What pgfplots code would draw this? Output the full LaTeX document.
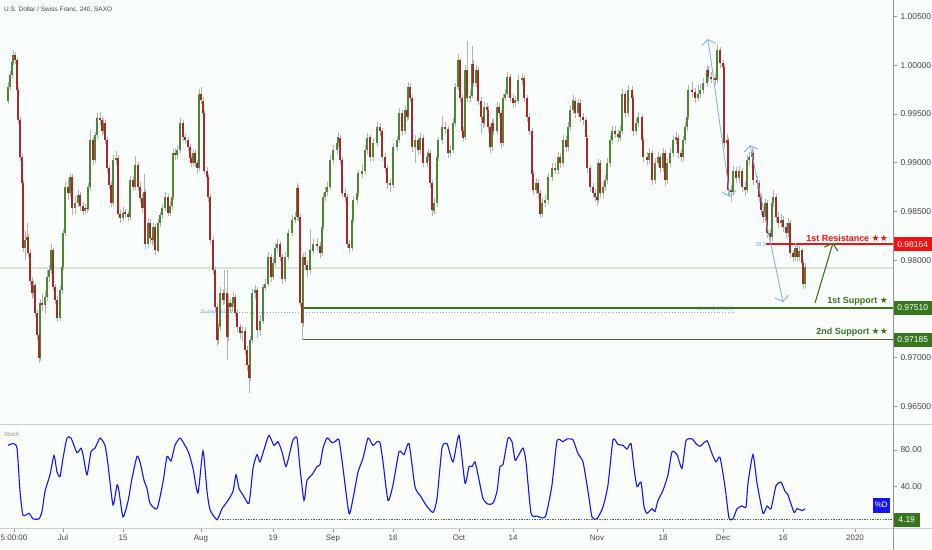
\documentclass[border=0pt]{standalone}
\usepackage{pgfplots}
\pgfplotsset{compat=1.18}
\usepackage{pgfplotstable}
\usepackage{fontspec}
\setmainfont{Liberation Sans}
\newfontfamily\starfont{DejaVu Sans}
\usetikzlibrary{arrows.meta}

\definecolor{bg}{RGB}{249,253,251}
\definecolor{upc}{RGB}{78,134,52}
\definecolor{dnc}{RGB}{168,40,40}
\definecolor{wick}{RGB}{178,180,178}
\definecolor{axgray}{RGB}{150,150,150}
\definecolor{sepgray}{RGB}{205,205,205}
\definecolor{txt}{RGB}{70,70,70}
\definecolor{sgreen}{RGB}{56,118,29}
\definecolor{rred}{RGB}{240,18,18}
\definecolor{fib}{RGB}{120,175,225}
\definecolor{stochc}{RGB}{20,20,245}
\definecolor{lastline}{RGB}{218,226,210}

\begin{document}

% 4h candles, x = bar position (Jul 1 00:00 at 62.5), o h l c prices
\pgfplotstableread{
x o c h l
8 0.9964 0.9978 0.9983 0.9960
10 0.9978 0.9990 0.9994 0.9975
12 0.9990 1.0003 1.0008 0.9987
13 1.0003 1.0011 1.0016 1.0000
15 1.0011 1.0005 1.0014 1.0001
17 1.0005 0.9975 1.0008 0.9971
18 0.9975 0.9944 0.9978 0.9940
20 0.9944 0.9906 0.9947 0.9902
22 0.9906 0.9879 0.9909 0.9875
23 0.9879 0.9813 0.9882 0.9809
25 0.9813 0.9821 0.9830 0.9800
27 0.9821 0.9824 0.9838 0.9817
28 0.9824 0.9807 0.9827 0.9803
30 0.9807 0.9779 0.9810 0.9775
32 0.9779 0.9766 0.9783 0.9760
33 0.9766 0.9774 0.9779 0.9762
35 0.9774 0.9746 0.9777 0.9742
37 0.9746 0.9723 0.9749 0.9718
39 0.9723 0.9700 0.9726 0.9694
40 0.9700 0.9756 0.9760 0.9697
42 0.9756 0.9754 0.9765 0.9748
45 0.9754 0.9762 0.9768 0.9745
47 0.9762 0.9783 0.9790 0.9758
49 0.9783 0.9790 0.9795 0.9778
51 0.9790 0.9810 0.9817 0.9786
53 0.9810 0.9772 0.9813 0.9768
55 0.9772 0.9759 0.9776 0.9755
57 0.9759 0.9741 0.9763 0.9737
60 0.9741 0.9769 0.9774 0.9738
62 0.9769 0.9793 0.9797 0.9765
63 0.9793 0.9828 0.9832 0.9790
65 0.9828 0.9875 0.9880 0.9825
68 0.9875 0.9869 0.9884 0.9862
70 0.9869 0.9885 0.9890 0.9865
72 0.9885 0.9854 0.9888 0.9846
75 0.9854 0.9859 0.9866 0.9848
78 0.9859 0.9867 0.9872 0.9855
80 0.9867 0.9856 0.9870 0.9851
83 0.9856 0.9851 0.9860 0.9846
85 0.9851 0.9854 0.9858 0.9847
87 0.9854 0.9853 0.9858 0.9849
88 0.9853 0.9875 0.9879 0.9850
90 0.9875 0.9923 0.9934 0.9872
93 0.9923 0.9903 0.9927 0.9898
95 0.9903 0.9928 0.9932 0.9900
97 0.9928 0.9946 0.9951 0.9924
100 0.9946 0.9944 0.9952 0.9939
102 0.9944 0.9933 0.9947 0.9929
103 0.9933 0.9941 0.9945 0.9930
105 0.9941 0.9923 0.9944 0.9919
107 0.9923 0.9895 0.9926 0.9890
109 0.9895 0.9877 0.9898 0.9873
111 0.9877 0.9859 0.9881 0.9855
113 0.9859 0.9903 0.9908 0.9856
116 0.9903 0.9905 0.9912 0.9898
118 0.9905 0.9848 0.9908 0.9844
120 0.9848 0.9843 0.9852 0.9838
123 0.9843 0.9849 0.9855 0.9840
125 0.9849 0.9848 0.9853 0.9843
128 0.9848 0.9844 0.9851 0.9840
130 0.9844 0.9882 0.9887 0.9841
133 0.9882 0.9875 0.9886 0.9871
135 0.9875 0.9898 0.9907 0.9872
138 0.9898 0.9875 0.9901 0.9871
140 0.9875 0.9864 0.9880 0.9860
142 0.9864 0.9854 0.9868 0.9849
144 0.9854 0.9870 0.9888 0.9850
145 0.9870 0.9817 0.9873 0.9812
148 0.9817 0.9838 0.9843 0.9813
150 0.9838 0.9823 0.9842 0.9818
152 0.9823 0.9821 0.9828 0.9815
153 0.9821 0.9834 0.9839 0.9817
155 0.9834 0.9810 0.9837 0.9805
158 0.9810 0.9838 0.9842 0.9807
160 0.9838 0.9846 0.9850 0.9834
162 0.9846 0.9854 0.9858 0.9842
165 0.9854 0.9865 0.9870 0.9850
168 0.9865 0.9849 0.9868 0.9845
170 0.9849 0.9856 0.9861 0.9845
172 0.9856 0.9865 0.9869 0.9852
173 0.9865 0.9910 0.9914 0.9862
175 0.9910 0.9908 0.9915 0.9903
177 0.9908 0.9913 0.9918 0.9904
180 0.9913 0.9941 0.9946 0.9910
183 0.9941 0.9926 0.9944 0.9922
185 0.9926 0.9923 0.9930 0.9919
188 0.9923 0.9916 0.9927 0.9912
190 0.9916 0.9905 0.9919 0.9901
191 0.9905 0.9900 0.9908 0.9896
193 0.9900 0.9910 0.9914 0.9897
195 0.9910 0.9900 0.9913 0.9896
197 0.9900 0.9895 0.9903 0.9888
199 0.9895 0.9971 0.9976 0.9892
201 0.9971 0.9964 0.9978 0.9960
203 0.9964 0.9951 0.9968 0.9947
204 0.9951 0.9892 0.9954 0.9888
207 0.9892 0.9885 0.9896 0.9880
208 0.9885 0.9865 0.9888 0.9860
210 0.9865 0.9821 0.9868 0.9817
213 0.9821 0.9790 0.9825 0.9786
215 0.9790 0.9752 0.9793 0.9747
217 0.9752 0.9718 0.9756 0.9712
218 0.9718 0.9731 0.9736 0.9714
220 0.9731 0.9766 0.9773 0.9727
223 0.9766 0.9759 0.9770 0.9754
224 0.9759 0.9766 0.9790 0.9755
227 0.9766 0.9721 0.9790 0.9697
228 0.9721 0.9756 0.9765 0.9717
230 0.9756 0.9752 0.9760 0.9747
232 0.9752 0.9756 0.9761 0.9748
233 0.9756 0.9762 0.9767 0.9752
235 0.9762 0.9746 0.9765 0.9742
237 0.9746 0.9731 0.9750 0.9726
240 0.9731 0.9725 0.9735 0.9719
242 0.9725 0.9727 0.9733 0.9716
245 0.9727 0.9708 0.9731 0.9703
247 0.9708 0.9692 0.9712 0.9686
249 0.9692 0.9679 0.9696 0.9664
250 0.9679 0.9718 0.9722 0.9676
252 0.9718 0.9766 0.9770 0.9715
255 0.9766 0.9769 0.9775 0.9760
257 0.9769 0.9728 0.9772 0.9720
260 0.9728 0.9738 0.9744 0.9722
263 0.9738 0.9772 0.9776 0.9735
265 0.9772 0.9776 0.9781 0.9768
268 0.9776 0.9803 0.9808 0.9773
271 0.9803 0.9783 0.9806 0.9778
273 0.9783 0.9797 0.9802 0.9780
275 0.9797 0.9813 0.9818 0.9794
277 0.9813 0.9817 0.9822 0.9809
280 0.9817 0.9803 0.9820 0.9799
282 0.9803 0.9781 0.9806 0.9776
285 0.9781 0.9803 0.9808 0.9778
288 0.9803 0.9828 0.9832 0.9800
292 0.9828 0.9841 0.9846 0.9825
295 0.9841 0.9844 0.9850 0.9838
297 0.9844 0.9874 0.9879 0.9840
298 0.9874 0.9844 0.9877 0.9840
300 0.9844 0.9756 0.9847 0.9752
302 0.9756 0.9735 0.9760 0.9718
303 0.9735 0.9803 0.9807 0.9732
305 0.9803 0.9795 0.9808 0.9790
307 0.9795 0.9790 0.9800 0.9783
310 0.9790 0.9810 0.9832 0.9786
313 0.9810 0.9817 0.9822 0.9806
317 0.9817 0.9815 0.9823 0.9810
320 0.9815 0.9807 0.9819 0.9802
322 0.9807 0.9834 0.9838 0.9804
323 0.9834 0.9865 0.9869 0.9831
325 0.9865 0.9870 0.9875 0.9861
327 0.9870 0.9875 0.9880 0.9866
330 0.9875 0.9903 0.9908 0.9872
333 0.9903 0.9913 0.9918 0.9899
337 0.9913 0.9920 0.9925 0.9909
338 0.9920 0.9926 0.9932 0.9916
340 0.9926 0.9903 0.9929 0.9898
342 0.9903 0.9869 0.9906 0.9865
345 0.9869 0.9865 0.9874 0.9860
347 0.9865 0.9817 0.9868 0.9812
349 0.9817 0.9813 0.9821 0.9807
352 0.9813 0.9841 0.9845 0.9810
353 0.9841 0.9862 0.9866 0.9838
357 0.9862 0.9869 0.9874 0.9858
358 0.9869 0.9889 0.9893 0.9865
362 0.9889 0.9892 0.9899 0.9884
365 0.9892 0.9913 0.9918 0.9888
367 0.9913 0.9926 0.9931 0.9909
370 0.9926 0.9906 0.9929 0.9901
373 0.9906 0.9920 0.9925 0.9902
377 0.9920 0.9937 0.9942 0.9916
380 0.9937 0.9933 0.9941 0.9928
382 0.9933 0.9906 0.9936 0.9902
385 0.9906 0.9895 0.9910 0.9890
387 0.9895 0.9879 0.9898 0.9873
390 0.9879 0.9877 0.9883 0.9870
393 0.9877 0.9916 0.9920 0.9874
397 0.9916 0.9923 0.9928 0.9912
399 0.9923 0.9951 0.9956 0.9920
402 0.9951 0.9933 0.9954 0.9929
405 0.9933 0.9954 0.9959 0.9930
407 0.9954 0.9947 0.9960 0.9943
408 0.9947 0.9978 0.9983 0.9944
410 0.9978 0.9967 0.9982 0.9962
412 0.9967 0.9916 0.9970 0.9911
415 0.9916 0.9923 0.9928 0.9900
418 0.9923 0.9913 0.9927 0.9908
420 0.9913 0.9926 0.9931 0.9909
423 0.9926 0.9900 0.9929 0.9896
427 0.9900 0.9906 0.9911 0.9896
428 0.9906 0.9910 0.9914 0.9902
430 0.9910 0.9879 0.9913 0.9874
432 0.9879 0.9851 0.9882 0.9845
434 0.9851 0.9859 0.9864 0.9847
437 0.9859 0.9906 0.9910 0.9855
438 0.9906 0.9923 0.9927 0.9902
442 0.9923 0.9937 0.9948 0.9919
445 0.9937 0.9935 0.9942 0.9930
448 0.9935 0.9910 0.9938 0.9905
450 0.9910 0.9913 0.9918 0.9906
453 0.9913 0.9941 0.9946 0.9910
455 0.9941 0.9978 0.9982 0.9938
458 0.9978 1.0005 1.0012 0.9975
460 1.0005 0.9967 1.0008 0.9962
462 0.9967 0.9933 0.9970 0.9928
463 0.9933 0.9926 0.9937 0.9922
465 0.9926 0.9995 1.0000 0.9923
467 0.9995 0.9967 1.0025 0.9962
470 0.9967 0.9969 0.9975 0.9962
472 0.9969 1.0002 1.0020 0.9966
473 1.0002 0.9982 1.0006 0.9978
476 0.9982 0.9995 1.0000 0.9978
478 0.9995 0.9964 0.9998 0.9959
481 0.9964 0.9947 0.9968 0.9930
483 0.9947 0.9941 0.9951 0.9936
484 0.9941 0.9957 0.9962 0.9937
487 0.9957 0.9954 0.9961 0.9948
488 0.9954 0.9937 0.9958 0.9932
490 0.9937 0.9916 0.9940 0.9910
492 0.9916 0.9941 0.9945 0.9912
493 0.9941 0.9933 0.9945 0.9929
497 0.9933 0.9957 0.9962 0.9930
499 0.9957 0.9951 0.9961 0.9946
501 0.9951 0.9920 0.9954 0.9914
503 0.9920 0.9967 0.9971 0.9917
505 0.9967 0.9971 0.9976 0.9963
507 0.9971 0.9988 0.9993 0.9968
510 0.9988 0.9967 0.9991 0.9962
513 0.9967 0.9961 0.9971 0.9956
515 0.9961 0.9964 0.9969 0.9957
518 0.9964 0.9985 0.9990 0.9960
522 0.9985 0.9987 0.9992 0.9980
524 0.9987 0.9967 0.9990 0.9962
527 0.9967 0.9947 0.9970 0.9942
529 0.9947 0.9933 0.9950 0.9928
532 0.9933 0.9889 0.9936 0.9884
533 0.9889 0.9872 0.9892 0.9867
536 0.9872 0.9879 0.9884 0.9868
538 0.9879 0.9869 0.9883 0.9864
540 0.9869 0.9848 0.9872 0.9843
542 0.9848 0.9859 0.9864 0.9844
545 0.9859 0.9862 0.9867 0.9855
548 0.9862 0.9885 0.9890 0.9858
552 0.9885 0.9895 0.9900 0.9881
555 0.9895 0.9893 0.9900 0.9888
558 0.9893 0.9906 0.9911 0.9889
560 0.9906 0.9900 0.9910 0.9895
563 0.9900 0.9923 0.9928 0.9896
566 0.9923 0.9916 0.9927 0.9911
568 0.9916 0.9937 0.9942 0.9912
570 0.9937 0.9954 0.9959 0.9933
573 0.9954 0.9964 0.9970 0.9950
575 0.9964 0.9951 0.9967 0.9946
578 0.9951 0.9961 0.9966 0.9947
580 0.9961 0.9947 0.9965 0.9942
583 0.9947 0.9944 0.9951 0.9939
586 0.9944 0.9926 0.9947 0.9921
587 0.9926 0.9895 0.9929 0.9890
590 0.9895 0.9875 0.9898 0.9870
593 0.9875 0.9869 0.9879 0.9864
595 0.9869 0.9865 0.9873 0.9860
597 0.9865 0.9862 0.9869 0.9856
598 0.9862 0.9900 0.9904 0.9859
600 0.9900 0.9869 0.9903 0.9864
603 0.9869 0.9875 0.9880 0.9864
605 0.9875 0.9882 0.9887 0.9871
607 0.9882 0.9900 0.9905 0.9878
610 0.9900 0.9923 0.9928 0.9896
612 0.9923 0.9933 0.9938 0.9919
615 0.9933 0.9930 0.9938 0.9925
618 0.9930 0.9926 0.9934 0.9921
620 0.9926 0.9933 0.9938 0.9922
622 0.9933 0.9971 0.9976 0.9930
625 0.9971 0.9951 0.9974 0.9946
628 0.9951 0.9975 0.9980 0.9947
632 0.9975 0.9967 0.9979 0.9962
633 0.9967 0.9933 0.9970 0.9928
636 0.9933 0.9941 0.9946 0.9929
638 0.9941 0.9947 0.9952 0.9937
642 0.9947 0.9923 0.9950 0.9918
643 0.9923 0.9906 0.9926 0.9901
647 0.9906 0.9903 0.9911 0.9898
649 0.9903 0.9910 0.9915 0.9899
652 0.9910 0.9882 0.9913 0.9877
655 0.9882 0.9900 0.9905 0.9878
658 0.9900 0.9906 0.9911 0.9896
660 0.9906 0.9895 0.9909 0.9890
663 0.9895 0.9910 0.9915 0.9891
665 0.9910 0.9882 0.9913 0.9876
667 0.9882 0.9900 0.9905 0.9878
670 0.9900 0.9910 0.9915 0.9896
673 0.9910 0.9923 0.9928 0.9906
676 0.9923 0.9926 0.9932 0.9919
678 0.9926 0.9910 0.9929 0.9905
681 0.9910 0.9906 0.9914 0.9901
683 0.9906 0.9923 0.9928 0.9902
685 0.9923 0.9937 0.9942 0.9919
687 0.9937 0.9947 0.9952 0.9933
688 0.9947 0.9975 0.9980 0.9944
692 0.9975 0.9973 0.9983 0.9968
695 0.9973 0.9967 0.9977 0.9961
698 0.9967 0.9971 0.9980 0.9963
700 0.9971 0.9975 0.9981 0.9967
703 0.9975 0.9982 0.9987 0.9971
707 0.9982 0.9995 1.0000 0.9978
708 0.9995 0.9988 0.9999 0.9983
711 0.9988 0.9987 0.9993 0.9982
715 0.9987 0.9985 0.9991 0.9980
717 0.9985 1.0016 1.0022 0.9982
720 1.0016 1.0002 1.0019 0.9997
723 1.0002 0.9998 1.0006 0.9993
724 0.9998 0.9920 1.0001 0.9915
727 0.9920 0.9923 0.9930 0.9916
728 0.9923 0.9872 0.9926 0.9866
731 0.9872 0.9870 0.9877 0.9860
733 0.9870 0.9892 0.9897 0.9866
736 0.9892 0.9884 0.9896 0.9879
739 0.9884 0.9892 0.9897 0.9879
742 0.9892 0.9875 0.9895 0.9870
745 0.9875 0.9872 0.9880 0.9866
747 0.9872 0.9903 0.9908 0.9869
749 0.9903 0.9906 0.9911 0.9898
752 0.9906 0.9910 0.9916 0.9902
753 0.9910 0.9882 0.9913 0.9877
757 0.9882 0.9879 0.9886 0.9873
759 0.9879 0.9865 0.9882 0.9860
761 0.9865 0.9851 0.9868 0.9846
763 0.9851 0.9844 0.9855 0.9838
765 0.9844 0.9859 0.9863 0.9840
767 0.9859 0.9828 0.9862 0.9823
770 0.9828 0.9824 0.9832 0.9818
772 0.9824 0.9859 0.9863 0.9820
773 0.9859 0.9865 0.9872 0.9855
776 0.9865 0.9844 0.9868 0.9839
778 0.9844 0.9838 0.9849 0.9833
781 0.9838 0.9841 0.9847 0.9834
783 0.9841 0.9834 0.9845 0.9829
786 0.9834 0.9828 0.9838 0.9823
788 0.9828 0.9838 0.9843 0.9824
790 0.9838 0.9807 0.9841 0.9802
793 0.9807 0.9803 0.9811 0.9798
795 0.9803 0.9813 0.9818 0.9799
797 0.9813 0.9803 0.9816 0.9798
799 0.9803 0.9810 0.9815 0.9799
802 0.9810 0.9797 0.9813 0.9792
803 0.9797 0.9776 0.9800 0.9770
805 0.9776 0.9793 0.9797 0.9772
}\candles

% Stochastic %D
\pgfplotstableread{
x v
8 85
13 87
17 82
20 35
23 9
29 11
33 5
39 5
42 13
45 35
50 53
54 74
57 56
60 51
63 71
67 93
71 93
77 77
81 82
83 75
87 53
91 78
95 82
100 93
105 85
108 64
113 20
117 42
119 35
123 7
128 24
132 49
137 73
140 67
144 47
147 38
150 22
157 16
163 45
167 73
171 68
175 85
180 93
185 85
189 76
193 60
198 33
203 79
207 35
210 15
217 4
222 16
228 25
233 35
236 53
239 38
243 31
249 22
253 60
257 75
260 67
265 84
269 96
274 85
278 89
282 78
286 62
290 78
293 91
297 93
300 60
304 25
307 47
312 53
317 62
320 64
323 82
327 93
332 88
335 89
339 91
343 60
349 11
353 27
358 56
363 71
368 93
373 85
377 89
380 88
383 67
388 25
393 42
399 78
404 75
409 87
415 40
421 29
426 20
433 12
437 27
442 82
447 87
453 67
459 96
465 44
469 62
472 62
475 67
478 53
483 27
488 21
493 22
497 35
500 62
503 64
508 93
512 89
515 69
518 73
523 82
526 67
531 11
537 8
542 6
546 9
552 42
557 90
563 89
567 92
573 91
578 76
583 67
588 35
592 7
597 5
603 18
608 42
613 91
618 86
623 85
627 81
631 87
634 60
637 40
641 45
644 18
647 11
652 16
655 13
658 25
663 36
668 53
672 78
677 75
682 60
686 90
692 92
696 87
700 84
707 90
712 76
716 67
720 72
725 40
729 6
733 5
737 16
742 19
746 18
748 44
753 75
757 44
763 11
767 19
771 16
776 41
781 45
785 35
788 31
794 12
797 16
802 14
805 16
}\stochdata

\begin{tikzpicture}
\useasboundingbox (0,0) rectangle (932bp,-550bp);
\fill[bg] (0,0) rectangle (932bp,-550bp);

% ---------- price panel ----------
\begin{axis}[
  at={(0,0)}, anchor=north west,
  scale only axis, width=893bp, height=424bp,
  xmin=0, xmax=893, ymin=0.96318, ymax=1.00671,
  axis line style={draw=none},
  clip=false,
  xtick=\empty,
  ytick={0.965,0.970,0.980,0.985,0.990,0.995,1.000,1.005},
  ytick pos=right, yticklabel pos=right,
  tick align=outside, major tick length=4bp,
  ytick style={axgray, line width=0.6bp},
  scaled y ticks=false,
  yticklabel style={font=\fontsize{8.5}{10}\selectfont, text=txt,
    /pgf/number format/.cd, fixed, fixed zerofill, precision=5, assume math mode=true},
  unbounded coords=discard,
]
% last price line
\draw[lastline, line width=1.3bp] (axis cs:0,0.9792) -- (axis cs:893,0.9792);

% fib level
\draw[fib, dotted, line width=0.8bp] (axis cs:200,0.97468) -- (axis cs:736,0.97468);
\node[fib, font=\fontsize{5}{6}\selectfont, anchor=west, inner sep=0pt] at (axis cs:200,0.97468) {76.4\%(0.97468)};
\node[fib, font=\fontsize{5}{6}\selectfont, anchor=west, inner sep=0pt] at (axis cs:697,0.97500) {61.8\%(0.97497)};
\node[fib, font=\fontsize{5.5}{6}\selectfont, anchor=west, inner sep=0pt] at (axis cs:755,0.98164) {38.2\%};

% support / resistance lines
\draw[sgreen, line width=1.5bp] (axis cs:303,0.97510) -- (axis cs:893,0.97510);
\draw[sgreen, line width=1.5bp] (axis cs:303,0.97185) -- (axis cs:893,0.97185);
\draw[rred, line width=1.5bp] (axis cs:766,0.98164) -- (axis cs:893,0.98164);

% wicks
\addplot[draw=none, mark=none, forget plot,
  error bars/.cd, y dir=both, y explicit, error mark=none,
  error bar style={draw=wick, line width=0.8bp}]
  table[x=x, y expr={(\thisrow{h}+\thisrow{l})/2}, y error expr={(\thisrow{h}-\thisrow{l})/2}] {\candles};
% bodies, up
\addplot[draw=none, mark=none, forget plot,
  x filter/.expression={\thisrow{c}>=\thisrow{o} ? x : nan},
  error bars/.cd, y dir=both, y explicit, error mark=none,
  error bar style={draw=upc, line width=2.5bp}]
  table[x=x, y expr={(\thisrow{o}+\thisrow{c})/2}, y error expr={abs(\thisrow{c}-\thisrow{o})/2}] {\candles};
% bodies, down
\addplot[draw=none, mark=none, forget plot,
  x filter/.expression={\thisrow{c}<\thisrow{o} ? x : nan},
  error bars/.cd, y dir=both, y explicit, error mark=none,
  error bar style={draw=dnc, line width=2.5bp}]
  table[x=x, y expr={(\thisrow{o}+\thisrow{c})/2}, y error expr={abs(\thisrow{c}-\thisrow{o})/2}] {\candles};

% projection arrows
\draw[fib, line width=0.8bp, {Straight Barb[length=5bp,width=14bp]}-{Straight Barb[length=5bp,width=14bp]}]
  (axis cs:708,1.0027) -- (axis cs:730,0.9865);
\draw[fib, line width=0.8bp, {Straight Barb[length=5bp,width=14bp]}-{Straight Barb[length=5bp,width=14bp]}]
  (axis cs:750,0.9918) -- (axis cs:783,0.9757);
\draw[sgreen, line width=1.1bp, -{Straight Barb[length=6bp,width=14bp]}]
  (axis cs:815,0.9756) -- (axis cs:833,0.9818);

% labels
\node[rred, anchor=south east, inner sep=0pt, font=\fontsize{9}{10}\selectfont\bfseries]
  at (axis cs:888,0.98190) {1st Resistance {\starfont★★}};
\node[sgreen, anchor=south east, inner sep=0pt, font=\fontsize{9}{10}\selectfont\bfseries]
  at (axis cs:888,0.97536) {1st Support {\starfont★}};
\node[sgreen, anchor=south east, inner sep=0pt, font=\fontsize{9}{10}\selectfont\bfseries]
  at (axis cs:888,0.97211) {2nd Support {\starfont★★}};

% price boxes
\node[fill=rred, text=white, anchor=west, inner sep=0pt, minimum width=39bp, minimum height=14bp,
  font=\fontsize{8.5}{10}\selectfont] at (axis cs:893,0.98164) {0.98164};
\node[fill=sgreen, text=white, anchor=west, inner sep=0pt, minimum width=39bp, minimum height=14bp,
  font=\fontsize{8.5}{10}\selectfont] at (axis cs:893,0.97510) {0.97510};
\node[fill=sgreen, text=white, anchor=west, inner sep=0pt, minimum width=39bp, minimum height=14bp,
  font=\fontsize{8.5}{10}\selectfont] at (axis cs:893,0.97185) {0.97185};
\end{axis}

% ---------- stochastic panel ----------
\begin{axis}[
  at={(0,-424bp)}, anchor=north west,
  scale only axis, width=893bp, height=104bp,
  xmin=0, xmax=893, ymin=-5.0, ymax=108.3,
  axis line style={draw=none},
  clip=false,
  xtick={14,63,123,201,273,333,393,459,513,597,663,723,783,855},
  xticklabels={5:00:00,Jul,15,Aug,19,Sep,16,Oct,14,Nov,18,Dec,16,2020},
  xtick pos=bottom,
  ytick={40,80},
  ytick pos=right, yticklabel pos=right,
  tick align=outside, major tick length=4bp,
  tick style={axgray, line width=0.6bp},
  xticklabel style={font=\fontsize{8}{10}\selectfont, text=txt, yshift=1bp},
  yticklabel style={font=\fontsize{8.5}{10}\selectfont, text=txt,
    /pgf/number format/.cd, fixed, fixed zerofill, precision=2, assume math mode=true},
]
\draw[sgreen, line width=1.1bp, dash pattern=on 1.3bp off 1.3bp] (axis cs:217,4.19) -- (axis cs:893,4.19);
\addplot[stochc, line width=1.1bp, smooth, tension=0.35, mark=none] table[x=x, y=v] {\stochdata};
\node[fill=stochc, text=white, anchor=east, inner sep=0pt, minimum width=17bp, minimum height=15bp,
  font=\fontsize{8}{10}\selectfont] at (axis cs:890,20) {\%D};
\node[fill=sgreen, text=white, anchor=west, inner sep=0pt, minimum width=27bp, minimum height=14bp,
  font=\fontsize{8.5}{10}\selectfont] at (axis cs:893,4.19) {4.19};
\end{axis}

% frame lines and titles
\draw[sepgray, line width=0.8bp] (0,-424bp) -- (932bp,-424bp);
\draw[sepgray, line width=0.8bp] (0,-528bp) -- (932bp,-528bp);
\draw[axgray, line width=0.8bp] (893bp,0) -- (893bp,-550bp);
\node[anchor=west, text=txt, inner sep=0pt, font=\fontsize{6.5}{8}\selectfont] at (4bp,-10bp) {U.S. Dollar / Swiss Franc, 240, SAXO};
\node[anchor=west, text=axgray, inner sep=0pt, font=\fontsize{6}{7}\selectfont] at (4bp,-434bp) {Stoch};
\end{tikzpicture}
\end{document}
